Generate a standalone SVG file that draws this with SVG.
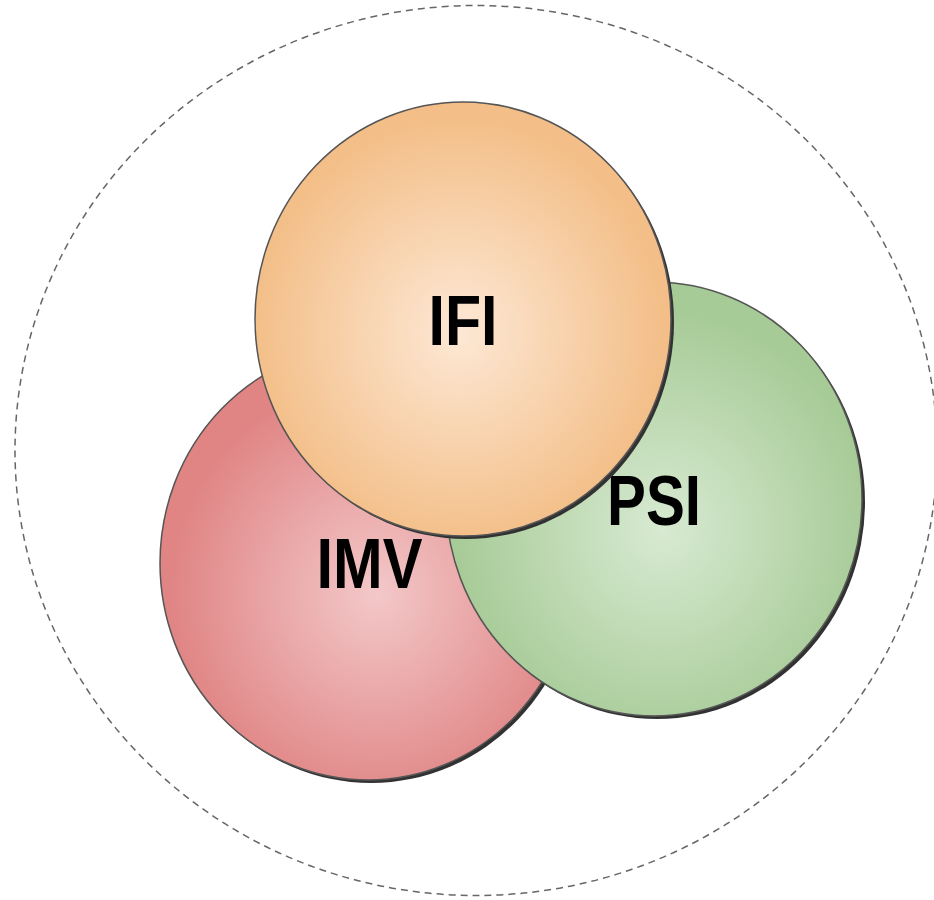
<svg xmlns="http://www.w3.org/2000/svg" width="934" height="900" viewBox="0 0 934 900">
  <style>
    .outline { stroke: #555555; stroke-width: 1.5; }
    .shadow { fill: #333333; filter: url(#blur); }
    .label { font-family: "Liberation Sans", Arial, sans-serif; font-weight: bold; font-size: 70px; fill: #000000; text-anchor: middle; }
    .boundary { fill: none; stroke: #666666; stroke-width: 1.5; stroke-dasharray: 7 5; }
  </style>
  <defs>
    <filter id="blur" x="-5%" y="-5%" width="110%" height="110%">
      <feGaussianBlur stdDeviation="0.5"/>
    </filter>
    <radialGradient id="gradRed" cx="0.52" cy="0.57" r="0.5">
      <stop offset="0" stop-color="#f3c8c9"/>
      <stop offset="1" stop-color="#e08484"/>
    </radialGradient>
    <radialGradient id="gradGreen" cx="0.52" cy="0.57" r="0.5">
      <stop offset="0" stop-color="#d8ead2"/>
      <stop offset="1" stop-color="#a7cb97"/>
    </radialGradient>
    <radialGradient id="gradOrange" cx="0.49" cy="0.53" r="0.5">
      <stop offset="0" stop-color="#fde8d5"/>
      <stop offset="1" stop-color="#f3be87"/>
    </radialGradient>
  </defs>
  <rect width="934" height="900" fill="#ffffff"/>
  <ellipse id="boundary" class="boundary" cx="476" cy="450.5" rx="461" ry="445"/>
  <g id="connectors"></g>
  <g id="node-imv">
    <ellipse class="shadow" cx="371" cy="566" rx="208" ry="217"/>
    <ellipse class="outline" cx="368" cy="563" rx="208" ry="217" fill="url(#gradRed)"/>
    <text class="label" x="369.5" y="588" textLength="106" lengthAdjust="spacingAndGlyphs">IMV</text>
  </g>
  <g id="node-psi">
    <ellipse class="shadow" cx="657" cy="502" rx="208" ry="217"/>
    <ellipse class="outline" cx="654" cy="499" rx="208" ry="217" fill="url(#gradGreen)"/>
    <text class="label" x="654" y="525" textLength="94" lengthAdjust="spacingAndGlyphs">PSI</text>
  </g>
  <g id="node-ifi">
    <ellipse class="shadow" cx="466" cy="322" rx="208" ry="217"/>
    <ellipse class="outline" cx="463" cy="319" rx="208" ry="217" fill="url(#gradOrange)"/>
    <text class="label" x="463" y="345" textLength="69" lengthAdjust="spacingAndGlyphs">IFI</text>
  </g>
</svg>
